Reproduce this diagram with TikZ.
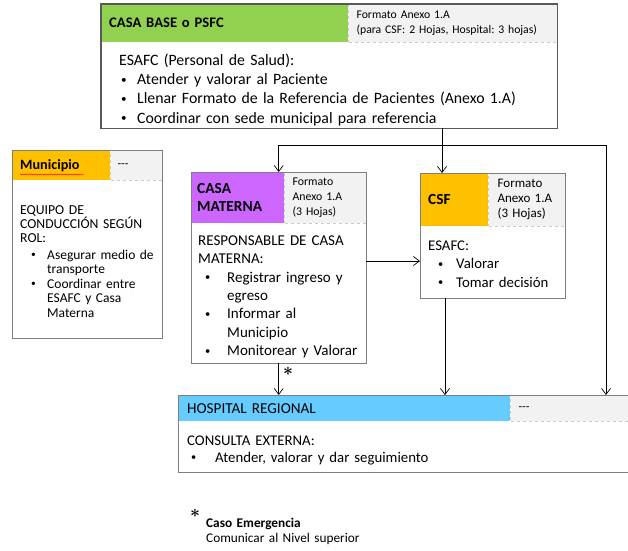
\documentclass[tikz,border=0pt]{standalone}
\usepackage{amsmath}
\usepackage{graphicx}
\usepackage{fontspec}
\setmainfont{Carlito}
\usetikzlibrary{positioning,arrows.meta,decorations.pathmorphing}

\definecolor{verdebase}{HTML}{92D050}
\definecolor{moradocm}{HTML}{CC66FF}
\definecolor{naranjacsf}{HTML}{FFC000}
\definecolor{azulhosp}{HTML}{66CCFF}
\definecolor{grisfmt}{HTML}{F2F2F2}
\definecolor{bordegris}{HTML}{7F7F7F}
\definecolor{bordeoscuro}{HTML}{595959}

% bullet item: #1 bullet offset, #2 text offset, #3 text
\newcommand{\vin}[3]{\hangindent=#2\hangafter=1\noindent\hspace*{#1}\makebox[\dimexpr#2-#1\relax][l]{\raisebox{0.08em}{\scalebox{0.7}{\textbullet}}}#3\par}
\frenchspacing

\tikzset{
  marco/.style={anchor=north west, inner sep=0pt},
  titulo/.style={anchor=north west, inner ysep=0pt, align=left, font=\bfseries\fontsize{15.4}{18}\selectfont},
  formato/.style={anchor=north west, inner ysep=0pt, fill=grisfmt, draw=gray!40, dashed, align=left, font=\fontsize{11.7}{15.5}\selectfont},
  cuerpo/.style={anchor=base west, inner sep=0pt, align=left},
  flecha/.style={-{Straight Barb[length=6pt,width=9pt]}, line width=0.7pt},
  borde/.style={draw=bordegris, line width=0.9pt},
  estrella/.style={inner sep=0pt, font=\fontsize{17}{17}\selectfont},
}

\begin{document}
\begin{tikzpicture}[x=1pt,y=-1pt]
  \useasboundingbox (0,0) rectangle (628,550);
  % outer frames
  \node[marco, minimum width=456pt, minimum height=124pt] (base) at (101,4) {};
  \node[marco, minimum width=150pt, minimum height=188pt] (mun) at (12,150) {};
  \node[marco, minimum width=175pt, minimum height=191pt] (cm) at (191,172) {};
  \node[marco, minimum width=145pt, minimum height=125pt] (csf) at (420,173) {};
  \node[marco, minimum width=452pt, minimum height=77pt] (hosp) at (178,395) {};

  % headers
  \node[titulo, fill=verdebase, text width=231pt, inner xsep=8pt, minimum height=38pt, font=\bfseries\fontsize{14.6}{18}\selectfont] (baseTit) at (base.north west) {CASA BASE o PSFC};
  \node[formato, text width=193pt, inner xsep=8pt, minimum height=38pt] (baseFmt) at (baseTit.north east) {Formato Anexo 1.A\\(para CSF: 2 Hojas, Hospital: 3 hojas)};

  \node[titulo, fill=naranjacsf, text width=82pt, inner xsep=8pt, minimum height=30pt, font=\bfseries\fontsize{14.2}{18}\selectfont] (munTit) at (mun.north west) {Municipio};
  \node[formato, text width=38pt, inner xsep=7pt, minimum height=30pt] (munFmt) at (munTit.north east) {-{}-{}-};
  \draw[red, line width=0.4pt, decorate, decoration={snake, amplitude=0.5pt, segment length=2.2pt}] (20,174.5) -- (84,174.5);

  \node[titulo, fill=moradocm, text width=81pt, inner xsep=6pt, minimum height=51pt] (cmTit) at (cm.north west) {CASA\\MATERNA};
  \node[formato, text width=66pt, inner xsep=8pt, minimum height=51pt, font=\fontsize{11.8}{15}\selectfont] (cmFmt) at (cmTit.north east) {Formato\\Anexo 1.A\\(3 Hojas)};

  \node[titulo, fill=naranjacsf, text width=52pt, inner xsep=8pt, minimum height=53pt] (csfTit) at (csf.north west) {CSF};
  \node[formato, text width=59pt, inner xsep=9pt, minimum height=53pt, font=\fontsize{13}{15}\selectfont] (csfFmt) at (csfTit.north east) {Formato\\Anexo 1.A\\(3 Hojas)};

  \node[titulo, fill=azulhosp, text width=314pt, inner xsep=9pt, minimum height=26pt, font=\fontsize{15.2}{18}\selectfont] (hospTit) at (hosp.north west) {HOSPITAL REGIONAL};
  \node[formato, text width=104pt, inner xsep=8pt, minimum height=26pt] (hospFmt) at (hospTit.north east) {-{}-{}-};

  % frame lines on top of the fills
  \draw[borde, draw=bordeoscuro, line width=1.1pt] (base.north west) rectangle (base.south east);
  \foreach \c in {mun,cm,csf,hosp}
    \draw[borde] (\c.north west) rectangle (\c.south east);

  % body texts
  \node[cuerpo, text width=440pt, font=\fontsize{15.8}{19.2}\selectfont] (baseTxt) at (119,65.5) {ESAFC (Personal de Salud):\par
    \vin{2pt}{18pt}{Atender y valorar al Paciente}%
    \vin{2pt}{18pt}{Llenar Formato de la Referencia de Pacientes (Anexo 1.A)}%
    \vin{2pt}{18pt}{Coordinar con sede municipal para referencia}};

  \node[cuerpo, text width=140pt, font=\fontsize{13.7}{14}\selectfont] (munTxt) at (20,214.5) {EQUIPO DE\newline CONDUCCIÓN SEGÚN\newline ROL:};
  \node[cuerpo, text width=140pt, font=\fontsize{13.5}{14.5}\selectfont] (munLst) at (20,259) {%
    \vin{11pt}{27pt}{Asegurar medio de\newline transporte}%
    \vin{11pt}{27pt}{Coordinar entre\newline ESAFC y Casa\newline Materna}};

  \node[cuerpo, text width=220pt, font=\fontsize{15}{18.3}\selectfont] (cmTxt) at (198,245.5) {RESPONSABLE DE CASA\newline MATERNA:\par
    \vin{7pt}{29pt}{Registrar ingreso y\newline egreso}%
    \vin{7pt}{29pt}{Informar al\newline Municipio}%
    \vin{7pt}{29pt}{Monitorear y Valorar}};

  \node[cuerpo, text width=130pt, font=\fontsize{14.8}{18.5}\selectfont] (csfTxt) at (428,250) {ESAFC:\par
    \vin{10pt}{28pt}{Valorar}%
    \vin{10pt}{28pt}{Tomar decisión}};

  \node[cuerpo, text width=400pt, font=\fontsize{14.8}{17}\selectfont] (hospTxt) at (187,445) {CONSULTA EXTERNA:\par
    \vin{4pt}{28pt}{Atender, valorar y dar seguimiento}};

  % connectors
  \coordinate (ramal) at (442,145);
  \coordinate (esquina) at (606,145);
  \coordinate (enlace) at (0,261);
  \coordinate (bajada) at (445,0);
  \draw[flecha] (base.south -| ramal) -- (csf.north -| ramal);
  \draw[flecha] (ramal) -| (cm.north);
  \draw[flecha] (ramal) -- (esquina) -- (esquina |- hosp.north);
  \draw[flecha] (cm.east |- enlace) -- (csf.west |- enlace);
  \draw[flecha] (cm.south) -- (cm.south |- hosp.north);
  \draw[flecha] (csf.south -| bajada) -- (hosp.north -| bajada);
  \node[estrella] (astCm) at (288,371) {$\boldsymbol{\ast}$};

  % note
  \node[estrella, font=\fontsize{19}{19}\selectfont] (notaAst) at (195,513) {$\boldsymbol{\ast}$};
  \node[cuerpo, text width=220pt, font=\fontsize{13.3}{15}\selectfont] (notaTxt) at (206,527) {\textbf{Caso Emergencia}\newline Comunicar al Nivel superior};
\end{tikzpicture}
\end{document}
